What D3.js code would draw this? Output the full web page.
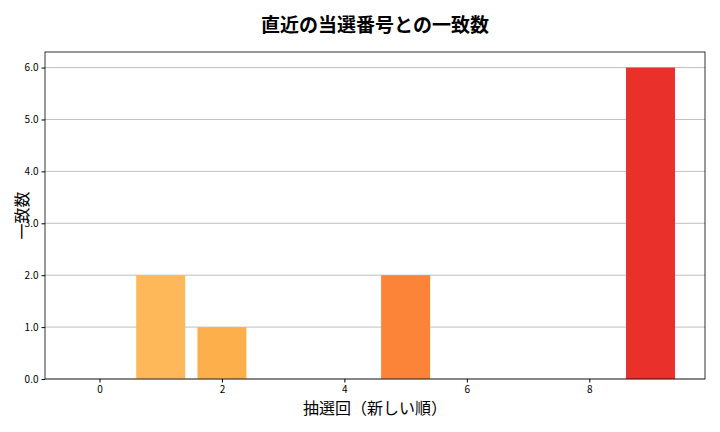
<!DOCTYPE html>
<html><head><meta charset="utf-8">
<script src="https://cdn.jsdelivr.net/npm/d3@7"></script>
<style>body{margin:0;background:#fff}text{font-family:"Noto Sans CJK JP","DejaVu Sans",sans-serif}</style>
</head><body><svg id="c" width="720" height="432"></svg>
<script>
const draws=[0,1,2,3,4,5,6,7,8,9];
const matches=[0,2,1,0,0,2,0,0,0,6];
const colors=["#ffc661","#feb85a","#fdaf4c","#fd9f44","#fd9140","#fc8439","#fb6a33","#f5522d","#ef3c2a","#e9302a"];
const xTicks=[0,2,4,6,8];
const yTicks=[0,1,2,3,4,5,6];
const svg=d3.select("#c");
const L=45,R=705,T=52,B=379;
const x=d3.scaleLinear().domain([-0.89,9.89]).range([L,R]);
const y=d3.scaleLinear().domain([0,6.3]).range([B,T]);
svg.append("g").selectAll("line").data(yTicks).join("line")
 .attr("x1",L).attr("x2",R).attr("y1",d=>y(d)).attr("y2",d=>y(d)).attr("stroke","#b0b0b0").attr("stroke-width",0.8);
svg.append("g").selectAll("rect").data(draws).join("rect")
 .attr("x",d=>x(d-0.4)).attr("width",x(0.8)-x(0)).attr("y",(d,i)=>y(matches[i])).attr("height",(d,i)=>y(0)-y(matches[i]))
 .attr("fill",(d,i)=>colors[i]);
const gx=svg.append("g").attr("transform",`translate(0,${B})`).call(d3.axisBottom(x).tickValues(xTicks).tickSize(3.5).tickSizeOuter(0));
const gy=svg.append("g").attr("transform",`translate(${L},0)`).call(d3.axisLeft(y).tickValues(yTicks).tickSize(3.5).tickSizeOuter(0));
[gx,gy].forEach(g=>{g.select(".domain").remove();g.selectAll("text").attr("font-size",10).attr("fill","#000");});
svg.append("rect").attr("x",L).attr("y",T).attr("width",R-L).attr("height",B-T).attr("fill","none").attr("stroke","#000").attr("stroke-width",0.8);
svg.append("text").attr("x",375).attr("y",32).attr("text-anchor","middle").attr("font-size",19).attr("font-weight","bold").text("直近の当選番号との一致数");
svg.append("text").attr("x",375).attr("y",414).attr("text-anchor","middle").attr("font-size",16).text("抽選回（新しい順）");
svg.append("text").attr("transform",`translate(28,${(T+B)/2}) rotate(-90)`).attr("text-anchor","middle").attr("font-size",16).text("一致数");
</script></body></html>
